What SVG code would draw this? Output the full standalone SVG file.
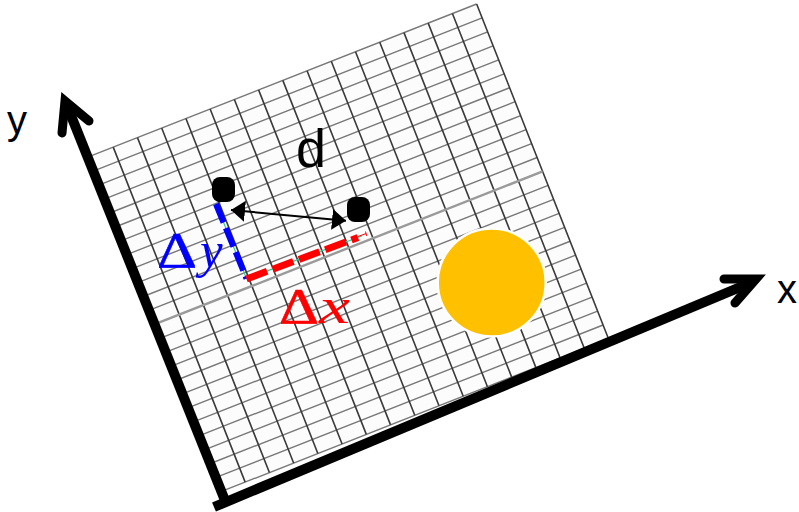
<svg xmlns="http://www.w3.org/2000/svg" width="799" height="512" viewBox="0 0 799 512">
<defs>
<style>
.vl{stroke:#3a3a3a;stroke-width:1.6;fill:none}
.hl{stroke:#787878;stroke-width:1.4;fill:none}
.axis{stroke:#000;stroke-width:10;fill:none}
.chev{stroke:#000;stroke-width:9;fill:none;stroke-linecap:round;stroke-linejoin:miter;stroke-miterlimit:10}
.lab{font-family:"Liberation Sans",Arial,sans-serif;fill:#000}
.math{font-family:"Liberation Serif","Times New Roman",serif}
.pt{fill:#000}
</style>
<marker id="ah" viewBox="-14 -11 14 22" refX="0" refY="0" markerWidth="14" markerHeight="22" markerUnits="userSpaceOnUse" orient="auto-start-reverse">
<path d="M0 0L-14 -10.5L-14 10.5Z" fill="#000"/>
</marker>
</defs>
<rect width="799" height="512" fill="#fff"/>
<g id="grid" transform="translate(89,156.7) rotate(-21.5)">
<rect x="0" y="0" width="416.64" height="360" fill="#fcfcfc"/>
<path class="hl" d="M0 0H416.64M0 15H416.64M0 30H416.64M0 45H416.64M0 60H416.64M0 75H416.64M0 90H416.64M0 105H416.64M0 120H416.64M0 135H416.64M0 150H416.64M0 165H416.64M0 195H416.64M0 210H416.64M0 225H416.64M0 240H416.64M0 255H416.64M0 270H416.64M0 285H416.64M0 300H416.64M0 315H416.64M0 330H416.64M0 345H416.64M0 360H416.64"/>
<path class="vl" d="M0 0V360M26.04 0V360M52.08 0V360M78.12 0V360M104.16 0V360M130.2 0V360M156.24 0V360M182.28 0V360M208.32 0V360M234.36 0V360M260.4 0V360M286.44 0V360M312.48 0V360M338.52 0V360M364.56 0V360M390.6 0V360M416.64 0V360"/>
<path d="M0 180H416.64" stroke="#9a9a9a" stroke-width="2.4" fill="none"/>
</g>
<g id="axes">
<path class="axis" d="M226 503L68 108"/>
<path class="axis" d="M214 507L750 283"/>
<path class="chev" d="M62 133L65 101L89 121"/>
<path class="chev" d="M724 279L756 279L735 303"/>
</g>
<g id="sun">
<circle cx="491.7" cy="282.5" r="54" fill="#FFC000" stroke="#fff" stroke-width="2.5"/>
</g>
<g id="connectors">
<path d="M216 204L246.5 278.5L362 236" stroke="#33cc99" stroke-width="1.2" fill="none"/>
<path d="M216 204L246.5 278.5" stroke="#0000ff" stroke-width="6" stroke-dasharray="20 6" fill="none"/>
<path d="M246.5 279L358 237.5" stroke="#ff0000" stroke-width="7" stroke-dasharray="22 6" fill="none"/>
<path d="M358 236.5L366 233.6M365.5 231.5L366.8 236" stroke="#ff0000" stroke-width="1" fill="none"/>
<path d="M231 210L346 220.7" stroke="#000" stroke-width="2" fill="none" marker-start="url(#ah)" marker-end="url(#ah)"/>
</g>
<g id="point1"><rect class="pt" x="212" y="177" width="23" height="25" rx="8"/></g>
<g id="point2"><rect class="pt" x="347" y="197" width="23" height="25" rx="8"/></g>
<g id="labels">
<text class="lab" x="7" y="134" font-size="40">y</text>
<text class="lab" x="777" y="303" font-size="40">x</text>
<text class="lab" x="296" y="167" font-size="54">d</text>
<g id="dy-label" fill="#0000ff" stroke="#0000ff" stroke-width="0.6">
<text class="math" x="157" y="267" font-size="51" textLength="40" lengthAdjust="spacingAndGlyphs">Δ</text>
<text class="math" x="200" y="267" font-size="51" font-style="italic" stroke-width="0">y</text>
</g>
<g id="dx-label" fill="#ff0000" stroke="#ff0000" stroke-width="0.6">
<text class="math" x="279" y="323" font-size="51" textLength="40" lengthAdjust="spacingAndGlyphs">Δ</text>
<text class="math" x="319" y="323" font-size="51" font-style="italic" stroke-width="0" textLength="31" lengthAdjust="spacingAndGlyphs">x</text>
</g>
</g>
</svg>
